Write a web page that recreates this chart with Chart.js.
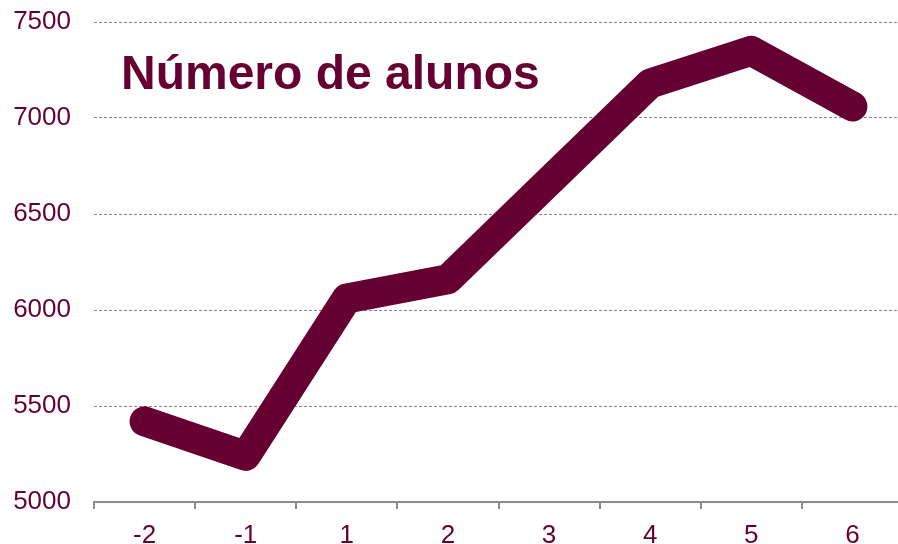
<!DOCTYPE html>
<html>
<head>
<meta charset="utf-8">
<script src="https://cdn.jsdelivr.net/npm/chart.js@4"></script>
<style>
  html, body { margin: 0; padding: 0; background: #fff; }
  #wrap { position: relative; width: 898px; height: 544px; overflow: hidden; }
  #title {
    position: absolute; left: 121px; top: 49px;
    font: bold 48px "Liberation Sans", Arial, sans-serif; line-height: 48px;
    color: #660033; white-space: nowrap;
  }
</style>
</head>
<body>
<div id="wrap">
  <canvas id="alunosChart" width="903" height="544"></canvas>
  <div id="title">Número de alunos</div>
</div>
<script>
const anos = ['-2', '-1', '1', '2', '3', '4', '5', '6'];
const numeroAlunos = [5420, 5240, 6060, 6160, 6670, 7180, 7350, 7060];
const yMin = 5000, yMax = 7500, yStep = 500;

const maroon = '#660033';
const tickFont = { family: '"Liberation Sans", Arial, sans-serif', size: 26 };

new Chart(document.getElementById('alunosChart'), {
  type: 'line',
  data: {
    labels: anos,
    datasets: [{
      label: 'Número de alunos',
      data: numeroAlunos,
      borderColor: maroon,
      backgroundColor: maroon,
      borderWidth: 30,
      borderCapStyle: 'round',
      borderJoinStyle: 'round',
      pointRadius: 0,
      tension: 0
    }]
  },
  options: {
    responsive: false,
    animation: false,
    layout: { padding: { top: 22, right: 0, bottom: 0, left: 0 } },
    plugins: {
      legend: { display: false },
      tooltip: { enabled: false }
    },
    scales: {
      x: {
        offset: true,
        grid: {
          offset: true,
          drawOnChartArea: false,
          drawTicks: true,
          tickLength: 7,
          color: '#8c8c8c',
          lineWidth: 2
        },
        border: { display: true, color: '#8c8c8c', width: 2 },
        ticks: { color: maroon, font: tickFont, padding: 11, maxRotation: 0 },
        afterFit: s => { s.height = 42; s.paddingLeft = 0; s.paddingRight = 0; }
      },
      y: {
        min: yMin,
        max: yMax,
        ticks: {
          stepSize: yStep, color: maroon, font: tickFont, padding: 23,
          callback: v => String(v)
        },
        grid: { drawTicks: false, color: 'rgba(102,0,51,0.55)', lineWidth: 1 },
        border: { display: false, dash: [3, 2] },
        afterFit: s => { s.width = 94; s.paddingTop = 0; s.paddingBottom = 0; }
      }
    }
  }
});
</script>
</body>
</html>
